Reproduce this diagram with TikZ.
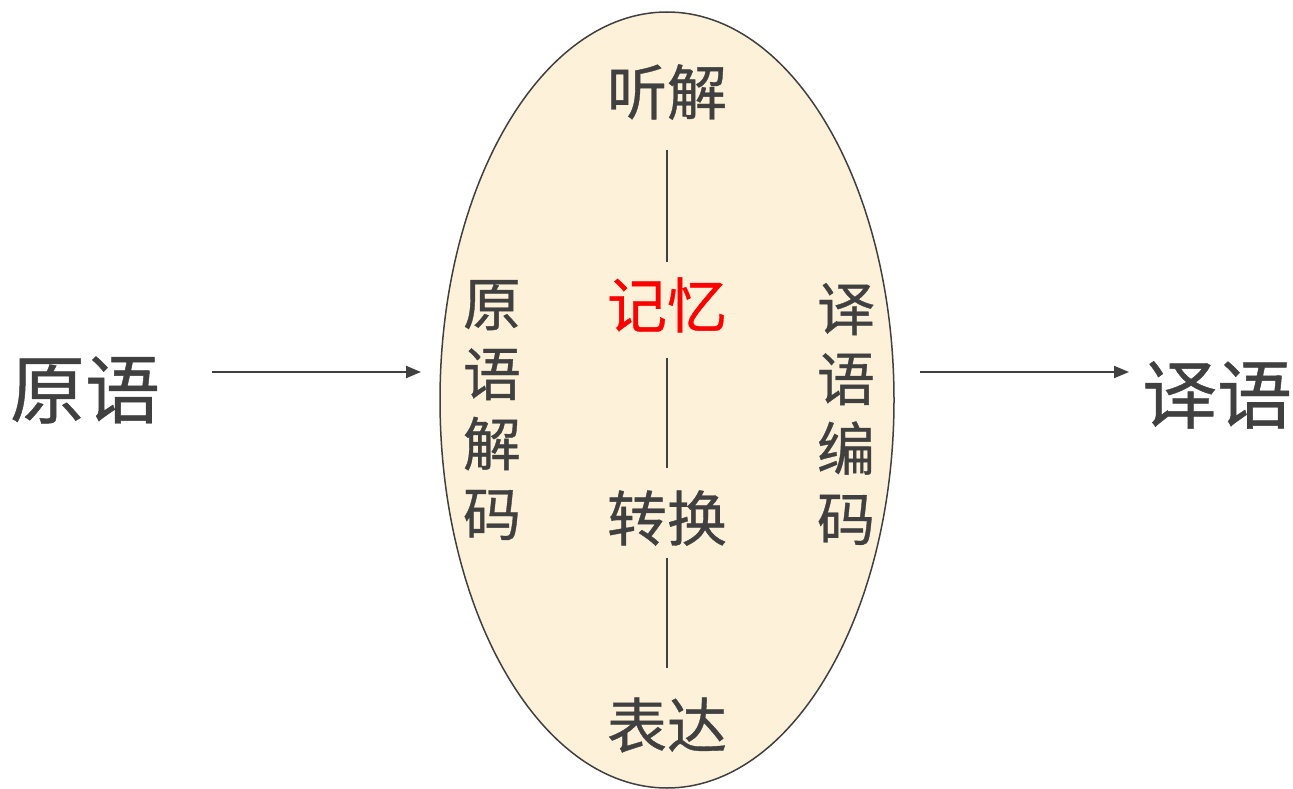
\documentclass[tikz,border=0pt]{standalone}
\usepackage{fontspec}
\newfontfamily\cjk[FakeBold=0.6]{Noto Sans CJK SC}
\usetikzlibrary{arrows.meta,shapes.geometric}
\definecolor{inkgray}{HTML}{404040}
\definecolor{eggfill}{HTML}{FDF2D9}
\definecolor{memred}{HTML}{FF0000}
\tikzset{
  big/.style={text=inkgray,inner sep=0pt,font=\cjk\fontsize{75}{75}\selectfont},
  mid/.style={text=inkgray,inner sep=0pt,font=\cjk\fontsize{60}{60}\selectfont},
  col/.style={text=inkgray,inner sep=0pt,align=center,font=\cjk\fontsize{58}{70}\selectfont},
  link/.style={inkgray,line width=1.2pt},
  flow/.style={inkgray,line width=2pt,-{Triangle[length=15pt,width=12pt]}}
}
\begin{document}
\begin{tikzpicture}[x=1pt,y=-1pt]
\useasboundingbox (0,0) rectangle (1293,789);
\node[draw=inkgray,line width=1.5pt,fill=eggfill,ellipse,inner sep=0pt,
  minimum width=454,minimum height=776] (egg) at (667,400) {};
\node[big] (src) at (85,390) {原语};
\node[big] (dst) at (1217,395) {译语};
\node[mid] (tj) at (667,92) {听解};
\node[mid,text=memred] (jy) at (667,305) {记忆};
\node[mid] (zh) at (667,518) {转换};
\node[mid] (bd) at (667,725) {表达};
\node[col] (jm) at (492,410) {原\\语\\解\\码};
\node[col] (bm) at (846,414) {译\\语\\编\\码};
% connectors
\foreach \n/\a/\b in {1/150/262,2/358/468,3/558/668}{
  \coordinate (u\n) at (667,\a);
  \coordinate (d\n) at (667,\b);
  \draw[link] (u\n) -- (d\n);
}
\coordinate (srcend) at (212,372);
\coordinate (in) at (421,372);
\coordinate (outstart) at (920,372);
\coordinate (out) at (1129,372);
\draw[flow] (srcend) -- (in);
\draw[flow] (outstart) -- (out);
\end{tikzpicture}
\end{document}
